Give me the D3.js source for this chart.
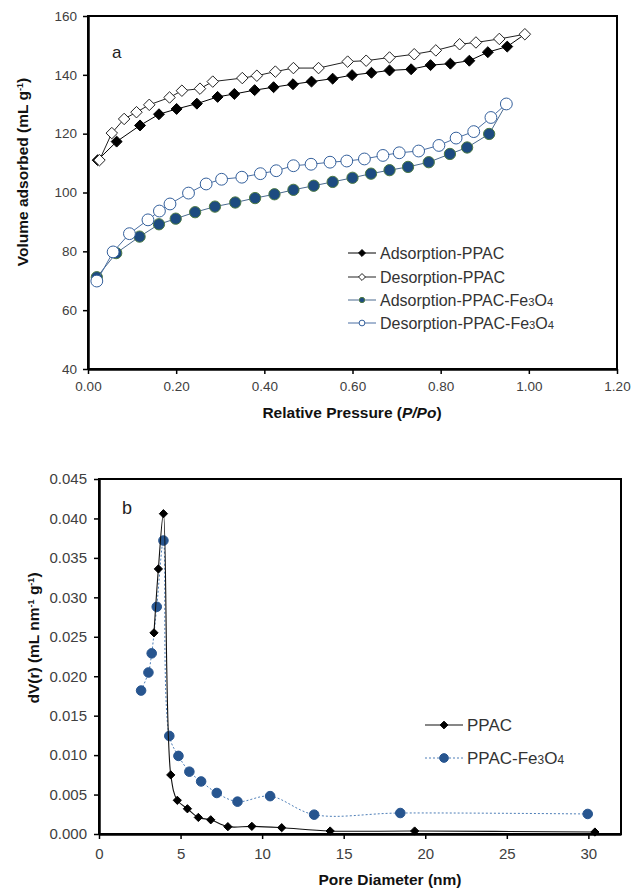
<!DOCTYPE html>
<html>
<head>
<meta charset="utf-8">
<script src="https://cdn.jsdelivr.net/npm/d3@7"></script>
<style>
  body { margin: 0; background: #fff; }
  svg { display: block; font-family: Arial, "Liberation Sans", sans-serif; }
</style>
</head>
<body>
<svg id="fig" width="633" height="890"></svg>
<script>
// ---- panel a : N2 isotherms ----
const pressureTicks = [0, 0.2, 0.4, 0.6, 0.8, 1.0, 1.2];
const volumeTicks = [40, 60, 80, 100, 120, 140, 160];

const adsPPAC_p = [0.022, 0.065, 0.118, 0.161, 0.201, 0.247, 0.294, 0.332, 0.378, 0.421, 0.465, 0.507, 0.555, 0.599, 0.643, 0.684, 0.733, 0.777, 0.822, 0.865, 0.907, 0.951];
const adsPPAC_v = [111.0, 117.3, 122.8, 126.6, 128.4, 130.2, 132.5, 133.5, 134.8, 135.8, 136.8, 137.7, 138.7, 139.9, 140.7, 141.5, 141.9, 143.3, 143.8, 144.8, 147.7, 149.6];

const desPPAC_p = [0.991, 0.933, 0.880, 0.843, 0.789, 0.740, 0.684, 0.631, 0.589, 0.523, 0.466, 0.425, 0.383, 0.350, 0.283, 0.254, 0.213, 0.185, 0.139, 0.110, 0.082, 0.054, 0.026];
const desPPAC_v = [153.8, 152.2, 151.0, 150.4, 148.3, 147.0, 145.9, 144.8, 144.5, 142.3, 142.3, 141.1, 139.7, 138.9, 137.7, 135.3, 134.6, 132.3, 129.8, 127.3, 125.0, 120.2, 111.0];

const adsFe_p = [0.020, 0.064, 0.117, 0.161, 0.199, 0.243, 0.288, 0.334, 0.379, 0.423, 0.466, 0.512, 0.555, 0.600, 0.642, 0.684, 0.726, 0.773, 0.821, 0.860, 0.910];
const adsFe_v = [71.2, 79.4, 85.0, 89.2, 91.1, 93.3, 95.2, 96.6, 98.1, 99.4, 100.9, 102.3, 103.6, 105.0, 106.4, 107.6, 108.7, 110.3, 113.1, 115.3, 119.9];

const desFe_p = [0.949, 0.914, 0.875, 0.835, 0.796, 0.750, 0.706, 0.669, 0.627, 0.587, 0.549, 0.506, 0.466, 0.427, 0.391, 0.349, 0.303, 0.268, 0.228, 0.186, 0.162, 0.136, 0.094, 0.057, 0.020];
const desFe_v = [130.1, 125.5, 120.7, 118.5, 116.0, 114.1, 113.5, 112.6, 111.4, 110.7, 110.3, 109.6, 109.1, 107.4, 106.4, 105.2, 104.5, 102.9, 99.8, 96.1, 93.7, 90.7, 86.0, 79.8, 69.9];

// ---- panel b : pore size distribution ----
const diameterTicks = [0, 5, 10, 15, 20, 25, 30];
const dvTicks = [0, 0.005, 0.010, 0.015, 0.020, 0.025, 0.030, 0.035, 0.040, 0.045];

const ppacD = [3.37, 3.64, 3.95, 4.40, 4.80, 5.42, 6.09, 6.85, 7.90, 9.37, 11.2, 14.17, 19.35, 30.4];
const ppacV = [0.0255, 0.0336, 0.0406, 0.00749, 0.00427, 0.0032, 0.0021, 0.0018, 0.00093, 0.00097, 0.0008, 0.00038, 0.00038, 0.00025];

const feD = [2.58, 3.03, 3.23, 3.54, 3.95, 4.31, 4.87, 5.54, 6.26, 7.22, 8.49, 10.49, 13.19, 18.47, 29.96];
const feV = [0.01818, 0.02047, 0.0229, 0.0288, 0.0372, 0.01243, 0.0099, 0.0079, 0.00666, 0.0052, 0.0041, 0.0048, 0.00245, 0.00266, 0.00254];

const zip = (xs, ys) => xs.map((x, i) => ({ x, y: ys[i] }));

// square turned 45deg, excel style diamond
const diamond = {
  draw(ctx, size) {
    const r = Math.sqrt(size / 2);
    ctx.moveTo(0, -r); ctx.lineTo(r, 0); ctx.lineTo(0, r); ctx.lineTo(-r, 0); ctx.closePath();
  }
};

const svg = d3.select("#fig");

function frame(g, x, y, o) {
  const [x0, x1] = x.range();
  const [y0, y1] = y.range();
  g.append("rect")
    .attr("x", x0).attr("y", y1).attr("width", x1 - x0).attr("height", y0 - y1)
    .attr("fill", "none").attr("stroke", "#000").attr("stroke-width", 2);

  const ax = g.append("g").attr("transform", `translate(0,${y0})`)
    .call(d3.axisBottom(x).tickValues(o.xTicks).tickFormat(o.xFmt).tickSize(5).tickSizeOuter(0).tickPadding(o.xPad));
  const ay = g.append("g").attr("transform", `translate(${x0},0)`)
    .call(d3.axisLeft(y).tickValues(o.yTicks).tickFormat(o.yFmt).tickSize(5).tickSizeOuter(0).tickPadding(o.yPad));

  [ax, ay].forEach(a => {
    a.select(".domain").attr("stroke", "#000").attr("stroke-width", 2.5);
    a.selectAll(".tick line").attr("stroke", "#000").attr("stroke-width", 1.5);
    a.selectAll(".tick text")
      .attr("fill", "#404040")
      .style("font-size", o.tickFont + "px")
      .style("font-family", "Arial, 'Liberation Sans', sans-serif");
  });
}

function series(g, x, y, pts, linePts, s) {
  const line = d3.line().x(d => x(d.x)).y(d => y(d.y));
  if (s.curve) line.curve(s.curve);
  g.append("path")
    .datum(linePts)
    .attr("d", line)
    .attr("fill", "none")
    .attr("stroke", s.lineColor)
    .attr("stroke-width", s.lineWidth || 1)
    .attr("stroke-dasharray", s.dash || null);

  g.selectAll(null).data(pts).enter()
    .append("path")
    .attr("transform", d => `translate(${x(d.x)},${y(d.y)})`)
    .attr("d", d3.symbol().type(s.symbol).size(s.size))
    .attr("fill", s.fill)
    .attr("stroke", s.stroke)
    .attr("stroke-width", s.strokeWidth || 1);
}

function legendRow(g, x0, x1, yy, s, symSize, label, sub, font) {
  g.append("line")
    .attr("x1", x0).attr("x2", x1).attr("y1", yy).attr("y2", yy)
    .attr("stroke", s.lineColor).attr("stroke-width", s.lineWidth || 1)
    .attr("stroke-dasharray", s.dash || null);
  g.append("path")
    .attr("transform", `translate(${(x0 + x1) / 2},${yy})`)
    .attr("d", d3.symbol().type(s.symbol).size(symSize))
    .attr("fill", s.fill).attr("stroke", s.stroke).attr("stroke-width", 1);
  const t = g.append("text")
    .attr("x", x1 + 4).attr("y", yy).attr("dy", "0.36em")
    .attr("fill", "#333").style("font-size", font + "px");
  t.append("tspan").text(label);
  if (sub) {
    // Fe3O4 with subscripts
    t.append("tspan").text("Fe");
    t.append("tspan").text("3").style("font-size", (font * 0.7) + "px");
    t.append("tspan").text("O");
    t.append("tspan").text("4").style("font-size", (font * 0.7) + "px");
  }
}

// ================= panel a =================
{
  const x = d3.scaleLinear().domain([0, 1.2]).range([88, 617]);
  const y = d3.scaleLinear().domain([40, 160]).range([369, 16]);
  const g = svg.append("g");

  const sAdsPPAC = { symbol: diamond, size: 60, fill: "#000", stroke: "#000", lineColor: "#000" };
  const sDesPPAC = { symbol: diamond, size: 66, fill: "#fff", stroke: "#222", lineColor: "#222" };
  const sAdsFe = { symbol: d3.symbolCircle, size: 100, fill: "#1d4b80", stroke: "#4d7a45", lineColor: "#4a6a8e" };
  const sDesFe = { symbol: d3.symbolCircle, size: 110, fill: "#fff", stroke: "#34609c", lineColor: "#4a6fa3" };

  const adsP = zip(adsPPAC_p, adsPPAC_v), desP = zip(desPPAC_p, desPPAC_v);
  const adsF = zip(adsFe_p, adsFe_v), desF = zip(desFe_p, desFe_v);

  series(g, x, y, adsP, adsP.concat([desP[0]]), sAdsPPAC);
  series(g, x, y, desP, desP, sDesPPAC);
  series(g, x, y, adsF, adsF.concat([desF[0]]), sAdsFe);
  series(g, x, y, desF, desF, sDesFe);

  frame(g, x, y, {
    xTicks: pressureTicks, yTicks: volumeTicks,
    xFmt: d3.format(".2f"), yFmt: d3.format("d"),
    xPad: 7, yPad: 6, tickFont: 13.5
  });

  g.append("text").attr("x", 112).attr("y", 58).style("font-size", "17px").attr("fill", "#222").text("a");

  const lg = g.append("g");
  legendRow(lg, 348, 376, 253, sAdsPPAC, 24, "Adsorption-PPAC", false, 16);
  legendRow(lg, 348, 376, 277, sDesPPAC, 24, "Desorption-PPAC", false, 16);
  legendRow(lg, 348, 376, 300, sAdsFe, 22, "Adsorption-PPAC-", true, 16);
  legendRow(lg, 348, 376, 323, sDesFe, 26, "Desorption-PPAC-", true, 16);

  const xt = g.append("text").attr("x", 352).attr("y", 418).attr("text-anchor", "middle")
    .style("font-size", "15.5px").style("font-weight", "bold").attr("fill", "#111");
  xt.append("tspan").text("Relative Pressure (");
  xt.append("tspan").text("P/Po").style("font-style", "italic");
  xt.append("tspan").text(")");

  const yt = g.append("text").attr("transform", "translate(22,172) rotate(-90)")
    .attr("text-anchor", "middle").attr("dy", "0.36em")
    .style("font-size", "15.5px").style("font-weight", "bold").attr("fill", "#111");
  yt.append("tspan").text("Volume  adsorbed (mL g");
  yt.append("tspan").text("-1").attr("dy", -5).style("font-size", "9px");
  yt.append("tspan").text(")").attr("dy", 5);
}

// ================= panel b =================
{
  const x = d3.scaleLinear().domain([0, 32]).range([99, 621]);
  const y = d3.scaleLinear().domain([0, 0.045]).range([834, 479]);
  const g = svg.append("g");

  const sPPAC = { symbol: diamond, size: 34, fill: "#000", stroke: "#000", lineColor: "#111", lineWidth: 1.1, curve: d3.curveCatmullRom };
  const sFe = { symbol: d3.symbolCircle, size: 72, fill: "#27558f", stroke: "#27558f", lineColor: "#4f7fb8", dash: "2,2", curve: d3.curveCatmullRom };

  const ppac = zip(ppacD, ppacV), fe = zip(feD, feV);
  series(g, x, y, fe, fe, sFe);
  series(g, x, y, ppac, ppac, sPPAC);

  frame(g, x, y, {
    xTicks: diameterTicks, yTicks: dvTicks,
    xFmt: d3.format("d"), yFmt: d3.format(".3f"),
    xPad: 9, yPad: 7, tickFont: 15
  });

  g.append("text").attr("x", 122).attr("y", 514).style("font-size", "18px").attr("fill", "#222").text("b");

  const lg = g.append("g");
  legendRow(lg, 425, 463, 725, sPPAC, 30, "PPAC", false, 17);
  legendRow(lg, 425, 463, 758, sFe, 60, "PPAC-", true, 17);

  g.append("text").attr("x", 390).attr("y", 885).attr("text-anchor", "middle")
    .style("font-size", "15.5px").style("font-weight", "bold").attr("fill", "#111")
    .text("Pore Diameter (nm)");

  const yt = g.append("text").attr("transform", "translate(33,638) rotate(-90)")
    .attr("text-anchor", "middle").attr("dy", "0.36em")
    .style("font-size", "15.5px").style("font-weight", "bold").attr("fill", "#111");
  yt.append("tspan").text("dV(r) (mL nm");
  yt.append("tspan").text("-1").attr("dy", -5).style("font-size", "9px");
  yt.append("tspan").text(" g").attr("dy", 5);
  yt.append("tspan").text("-1").attr("dy", -5).style("font-size", "9px");
  yt.append("tspan").text(")").attr("dy", 5);
}
</script>
</body>
</html>
